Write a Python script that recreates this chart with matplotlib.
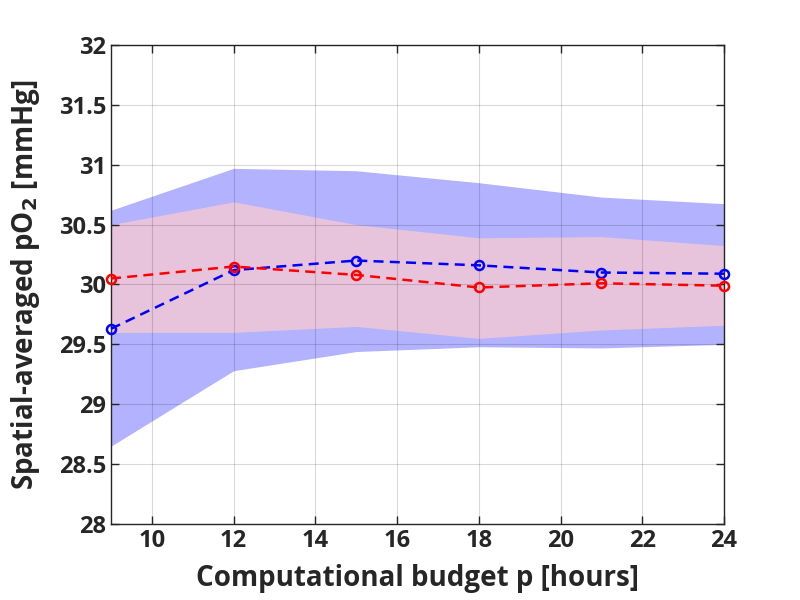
import matplotlib.pyplot as plt
import numpy as np

budget = [9, 12, 15, 18, 21, 24]

# blue series: mean and band
blue_mean = [29.63, 30.12, 30.20, 30.16, 30.10, 30.09]
blue_low = [28.65, 29.28, 29.44, 29.48, 29.47, 29.50]
blue_high = [30.62, 30.97, 30.95, 30.85, 30.73, 30.675]

# red series: mean and band
red_mean = [30.05, 30.15, 30.08, 29.975, 30.01, 29.99]
red_low = [29.60, 29.60, 29.65, 29.55, 29.62, 29.66]
red_high = [30.50, 30.69, 30.50, 30.39, 30.40, 30.325]

plt.rcParams['font.family'] = ['Open Sans', 'DejaVu Sans']
plt.rcParams['font.weight'] = 'bold'

fig = plt.figure(figsize=(8, 6), dpi=100)
ax = fig.add_axes([0.13875, 0.1267, 0.76625, 0.7983])

ax.fill_between(budget, blue_low, blue_high, color='b', alpha=0.3, linewidth=0)
ax.fill_between(budget, red_low, red_high, color=(1, 0.8, 0.8), alpha=0.7, linewidth=0)

ax.plot(budget, blue_mean, 'b--o', markerfacecolor='none', markersize=6.5,
        markeredgewidth=1.8, linewidth=1.8, dashes=(4, 2.5), clip_on=False, zorder=5)
ax.plot(budget, red_mean, 'r--o', markerfacecolor='none', markersize=6.5,
        markeredgewidth=1.8, linewidth=1.8, dashes=(4, 2.5), clip_on=False, zorder=5)

ax.set_xlim(9, 24)
ax.set_ylim(28, 32)
ax.set_xticks(np.arange(10, 25, 2))
ax.set_yticks(np.arange(28, 32.01, 0.5))
ax.set_yticklabels(['28', '28.5', '29', '29.5', '30', '30.5', '31', '31.5', '32'])

ax.grid(True, color='k', alpha=0.15, linewidth=0.8)
ax.set_axisbelow(False)
ax.tick_params(direction='in', top=True, right=True, labelsize=17, length=6,
               width=1, colors='#262626')
for lab in ax.get_xticklabels() + ax.get_yticklabels():
    lab.set_fontweight('bold')
for s in ax.spines.values():
    s.set_color('#262626')
    s.set_linewidth(1)

ax.set_xlabel('Computational budget p [hours]', fontsize=20, fontweight='bold',
              color='#262626', labelpad=8)
ax.set_ylabel('Spatial-averaged pO$_\\mathbf{2}$ [mmHg]', fontsize=20,
              fontweight='bold', color='#262626', labelpad=12)

fig.savefig('out.png', dpi=100)
